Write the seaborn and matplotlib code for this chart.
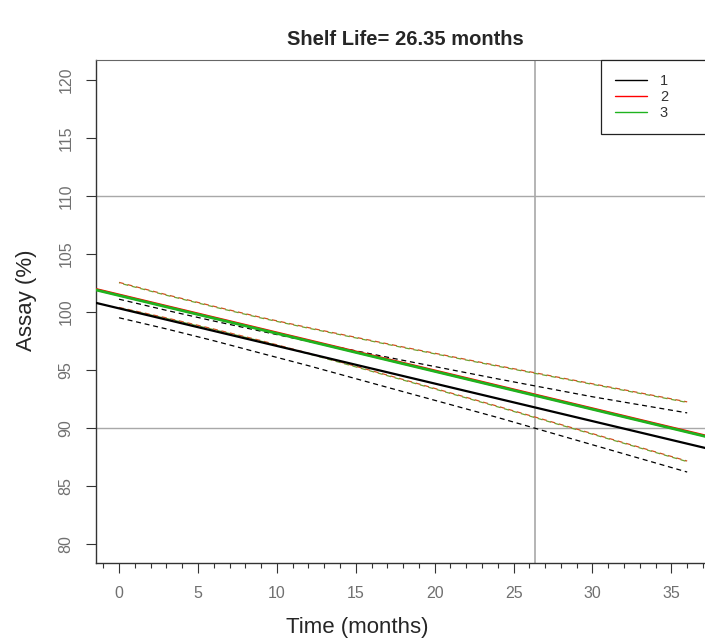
import matplotlib
matplotlib.use("Agg")
import matplotlib.pyplot as plt
from matplotlib.ticker import MultipleLocator
from matplotlib.lines import Line2D
import pandas as pd
import seaborn as sns

# ---------------- data ----------------
title_text = "Shelf Life= 26.35 months"
shelf_life = 26.35
spec_lower = 90
spec_upper = 110

batches = ["1", "2", "3"]
batch_colors = ["#000000", "#ff0000", "#1fb31f"]

# fitted regression lines (intercept at t=0, slope per month)
fit_intercepts = [100.31, 101.47, 101.42]
fit_slopes = [-0.324, -0.327, -0.327]

# confidence bands
band_times = [0, 3, 6, 9, 12, 18, 24, 30, 36]
b1_upper = [101.10, 100.14, 99.22, 98.34, 97.47, 95.83, 94.23, 92.69, 91.30]
b1_lower = [99.50, 98.54, 97.52, 96.44, 95.37, 93.13, 90.90, 88.55, 86.20]
b2_upper = [102.55, 101.49, 100.49, 99.53, 98.65, 96.98, 95.37, 93.81, 92.25]
b2_lower = [100.39, 99.49, 98.53, 97.53, 96.45, 94.18, 91.87, 89.51, 87.15]
b3_upper = [102.50, 101.44, 100.44, 99.48, 98.60, 96.93, 95.32, 93.76, 92.20]
b3_lower = [100.34, 99.44, 98.48, 97.48, 96.40, 94.13, 91.82, 89.46, 87.10]

x_ticks = [0, 5, 10, 15, 20, 25, 30, 35]
y_ticks = [80, 85, 90, 95, 100, 105, 110, 115, 120]

# ---------------- style ----------------
sns.set_style("white")
plt.rcParams["font.family"] = ["Liberation Sans", "DejaVu Sans"]

W, H = 705, 643
fig = plt.figure(figsize=(W / 100, H / 100), dpi=100)
ax = fig.add_axes([96 / W, (H - 563) / H, 618 / W, 503 / H])

ax.set_xlim(-1.46, 37.7)
ax.set_ylim(78.36, 121.72)

# reference lines
for yv in (spec_upper, spec_lower):
    ax.axhline(yv, color="#a8a8a8", lw=1.0, zorder=1)
ax.axvline(shelf_life, color="#a8a8a8", lw=1.2, zorder=1)

# confidence bands (dashed)
bands = [(b1_upper, b1_lower), (b2_upper, b2_lower), (b3_upper, b3_lower)]
dash_colors = ["#000000", "#d05020", "#70a030"]
for i, (up, lo) in enumerate(bands):
    for vals in (up, lo):
        df = pd.DataFrame({"t": band_times, "y": vals})
        sns.lineplot(data=df, x="t", y="y", ax=ax, color=dash_colors[i],
                     lw=0.9, linestyle=(0, (4, 3)) if i != 2 else (3.5, (4, 3)),
                     zorder=2, legend=False)

# fitted lines
fit_lw = [1.6, 2.0, 2.0]
for i in range(3):
    ax.axline((0, fit_intercepts[i]), slope=fit_slopes[i],
              color=batch_colors[i], lw=fit_lw[i], zorder=3 + i)

# axes styling
ax.set_xticks(x_ticks)
ax.set_yticks(y_ticks)
ax.xaxis.set_minor_locator(MultipleLocator(1))
ax.tick_params(axis="both", which="major", direction="out", length=7.2,
               width=0.8, color="#333333", labelcolor="#707070",
               labelsize=11.5, bottom=True, left=True)
ax.tick_params(axis="x", which="major", pad=9)
ax.tick_params(axis="y", which="major", pad=9)
ax.tick_params(axis="x", which="minor", direction="out", length=3.6,
               width=0.8, color="#333333", bottom=True)
for lab in ax.get_yticklabels():
    lab.set_rotation(90)
    lab.set_va("center")

for s in ("left", "bottom"):
    ax.spines[s].set_color("#333333")
    ax.spines[s].set_linewidth(1.0)
ax.spines["top"].set_color("#666666")
ax.spines["top"].set_linewidth(0.8)
ax.spines["right"].set_visible(False)

ax.set_xlabel("Time (months)", fontsize=16)
ax.set_ylabel("Assay (%)", fontsize=16)
ax.xaxis.set_label_coords((357 - 96) / 618, -(628 - 563) / 503)
ax.yaxis.set_label_coords(-(96 - 27) / 618, (563 - 300) / 503)
ax.xaxis.label.set_va("center")
ax.yaxis.label.set_va("center")
ax.set_title(title_text, fontsize=14.5, fontweight="bold", pad=11)

# legend
handles = [Line2D([], [], color=c, lw=1.0) for c in batch_colors]
leg = ax.legend(handles, batches, loc="upper right",
                bbox_to_anchor=(0.817, 0.0, 0.183, 1.0), mode="expand",
                borderaxespad=0, fancybox=False, framealpha=1,
                edgecolor="#222222", fontsize=10.5, handlelength=2.2,
                handletextpad=0.9, labelspacing=0.15, borderpad=0.95)
leg.get_frame().set_linewidth(0.9)
for t in leg.get_texts():
    t.set_color("#333333")

fig.savefig("out.png", dpi=100)
